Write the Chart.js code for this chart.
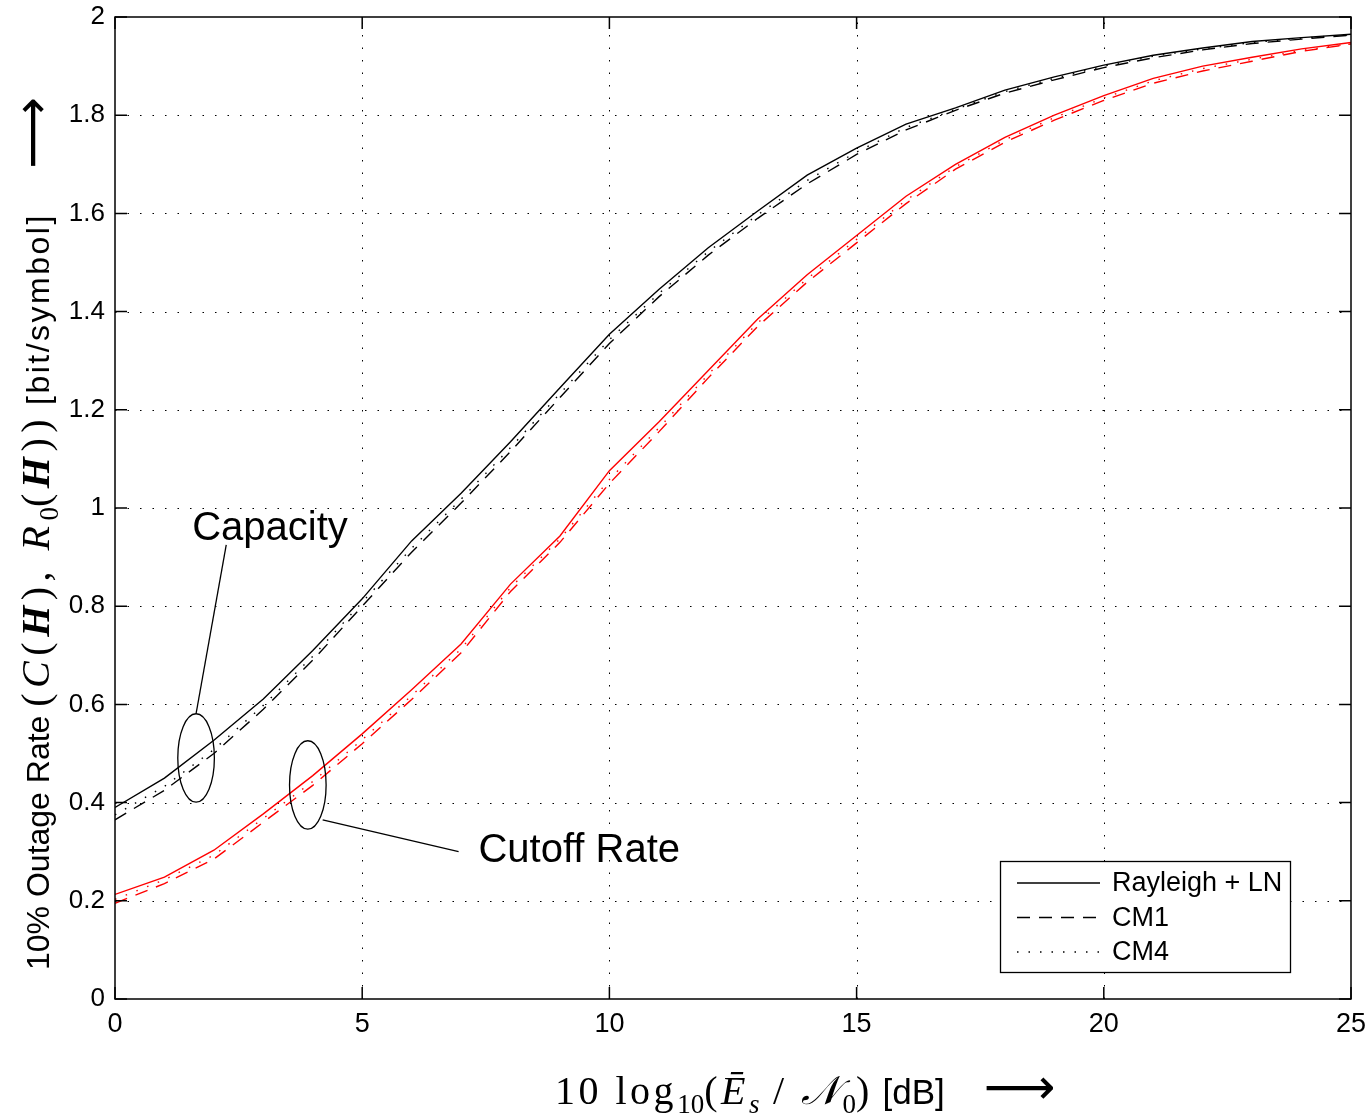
<!DOCTYPE html>
<html>
<head>
<meta charset="utf-8">
<script src="https://cdn.jsdelivr.net/npm/chart.js@4"></script>
<style>
    body { margin: 0; background: #fff; }
    #wrap { position: relative; width: 1371px; height: 1114px; }
    #chart { position: absolute; left: 0; top: 0; }
    .title { position: absolute; white-space: pre; color: #000; font-family: "Liberation Sans", Arial, sans-serif; text-align: left; }
    .m { font-family: "Liberation Serif", "DejaVu Serif", serif; font-size: 40px; letter-spacing: 3.5px; }
    #ytitle .m { letter-spacing: 5.5px; }
    .m sub { font-size: 27px; letter-spacing: 0; }
    .wide { letter-spacing: 2.5px; }
    .arrow { font-family: "DejaVu Sans", sans-serif; font-size: 50px; }
    #ytitle { font-size: 32px; left: 32px; top: 950px; width: 1000px; height: 40px; line-height: 40px; transform-origin: 0 50%; transform: rotate(-90deg); }
    #xtitle { font-size: 35px; left: 555px; top: 1064px; width: 800px; height: 46px; line-height: 46px; }
</style>
</head>
<body>
<div id="wrap">
    <canvas id="chart" width="1371" height="1114"></canvas>
    <div id="ytitle" class="title">10% Outage Rate <span class="m">(<i>C</i>(<b><i>H</i></b>), <i>R</i><sub>0</sub>(<b><i>H</i></b>))</span> <span class="wide">[bit/symbol]</span>     <span class="arrow">⟶</span></div>
    <div id="xtitle" class="title"><span class="m">10 log<sub>10</sub>(<i>Ē<sub>s</sub></i> / <i>𝒩</i><sub>0</sub>)</span> [dB]    <span class="arrow">⟶</span></div>
</div>
<script>
    // SNR in dB
    const snr = [0, 1, 2, 3, 4, 5, 6, 7, 8, 9, 10, 11, 12, 13, 14, 15, 16, 17, 18, 19, 20, 21, 22, 23, 24, 25];

    // capacity (black)
    const capRayleighLN = [0.39, 0.45, 0.527, 0.611, 0.71, 0.815, 0.933, 1.03, 1.135, 1.245, 1.354, 1.445, 1.53, 1.605, 1.678, 1.733, 1.782, 1.815, 1.851, 1.878, 1.902, 1.922, 1.937, 1.95, 1.958, 1.965];
    const capCM1 = [0.365, 0.425, 0.5, 0.59, 0.69, 0.8, 0.91, 1.01, 1.115, 1.225, 1.335, 1.43, 1.515, 1.59, 1.66, 1.72, 1.77, 1.81, 1.845, 1.872, 1.897, 1.917, 1.933, 1.946, 1.955, 1.963];
    const capCM4 = [0.375, 0.433, 0.508, 0.598, 0.698, 0.808, 0.918, 1.018, 1.123, 1.233, 1.343, 1.437, 1.522, 1.597, 1.667, 1.725, 1.775, 1.812, 1.848, 1.875, 1.9, 1.92, 1.935, 1.948, 1.957, 1.964];

    // cutoff rate (red)
    const cutRayleighLN = [0.213, 0.248, 0.303, 0.377, 0.455, 0.54, 0.63, 0.723, 0.845, 0.943, 1.076, 1.175, 1.28, 1.385, 1.475, 1.555, 1.635, 1.7, 1.755, 1.8, 1.84, 1.875, 1.9, 1.918, 1.935, 1.948];
    const cutCM1 = [0.195, 0.235, 0.285, 0.36, 0.435, 0.52, 0.61, 0.705, 0.83, 0.93, 1.05, 1.155, 1.265, 1.37, 1.46, 1.54, 1.62, 1.69, 1.745, 1.79, 1.83, 1.865, 1.89, 1.91, 1.93, 1.945];
    const cutCM4 = [0.203, 0.243, 0.293, 0.368, 0.443, 0.528, 0.618, 0.713, 0.838, 0.937, 1.058, 1.163, 1.272, 1.377, 1.467, 1.547, 1.627, 1.695, 1.75, 1.795, 1.835, 1.87, 1.895, 1.914, 1.932, 1.946];

    const legendLabels = ['Rayleigh + LN', 'CM1', 'CM4'];
    const xTicks = [0, 5, 10, 15, 20, 25];
    const yTicks = [0, 0.2, 0.4, 0.6, 0.8, 1, 1.2, 1.4, 1.6, 1.8, 2];

    const SOLID = [];
    const DASH = [13, 9];
    const DOT = [1.5, 10];

    function series(values, color, dash) {
        return {
            data: snr.map((x, i) => ({ x: x, y: values[i] })),
            borderColor: color,
            borderWidth: 1.4,
            borderDash: dash,
            pointRadius: 0,
            fill: false,
            tension: 0
        };
    }

    const datasets = [
        series(capCM4, '#000', DOT),
        series(capCM1, '#000', DASH),
        series(capRayleighLN, '#000', SOLID),
        series(cutCM4, '#ff0000', DOT),
        series(cutCM1, '#ff0000', DASH),
        series(cutRayleighLN, '#ff0000', SOLID)
    ];

    // ellipses + labels, in data units
    const notes = [
        { text: 'Capacity', cx: 1.64, cy: 0.491, rx: 0.37, ry: 0.09, from: [1.64, 0.581], to: [2.25, 0.925], tx: 1.56, ty: 0.935 },
        { text: 'Cutoff Rate', cx: 3.9, cy: 0.436, rx: 0.37, ry: 0.09, from: [4.2, 0.365], to: [6.95, 0.3], tx: 7.35, ty: 0.28 }
    ];

    const frame = {
        id: 'frame',
        beforeDatasetsDraw(chart) {
            const { ctx, chartArea: a, scales: { x, y } } = chart;
            ctx.save();
            ctx.strokeStyle = '#000';
            ctx.lineWidth = 1;
            ctx.setLineDash([1.5, 11]);
            xTicks.slice(1, -1).forEach(v => {
                const px = Math.round(x.getPixelForValue(v)) + 0.5;
                ctx.beginPath(); ctx.moveTo(px, a.bottom); ctx.lineTo(px, a.top); ctx.stroke();
            });
            yTicks.slice(1, -1).forEach(v => {
                const py = Math.round(y.getPixelForValue(v)) + 0.5;
                ctx.beginPath(); ctx.moveTo(a.left, py); ctx.lineTo(a.right, py); ctx.stroke();
            });
            ctx.restore();
        },
        afterDatasetsDraw(chart) {
            const { ctx, chartArea: a, scales: { x, y } } = chart;
            ctx.save();
            ctx.strokeStyle = '#000';
            ctx.lineWidth = 1.5;
            ctx.setLineDash([]);
            ctx.strokeRect(a.left, a.top, a.right - a.left, a.bottom - a.top);
            const t = 12;
            ctx.beginPath();
            xTicks.forEach(v => {
                const px = x.getPixelForValue(v);
                ctx.moveTo(px, a.bottom); ctx.lineTo(px, a.bottom - t);
                ctx.moveTo(px, a.top); ctx.lineTo(px, a.top + t);
            });
            yTicks.forEach(v => {
                const py = y.getPixelForValue(v);
                ctx.moveTo(a.left, py); ctx.lineTo(a.left + t, py);
                ctx.moveTo(a.right, py); ctx.lineTo(a.right - t, py);
            });
            ctx.stroke();

            // annotations
            ctx.lineWidth = 1.3;
            ctx.fillStyle = '#000';
            ctx.font = '40px "Liberation Sans", Arial, sans-serif';
            ctx.textBaseline = 'alphabetic';
            notes.forEach(n => {
                const cx = x.getPixelForValue(n.cx), cy = y.getPixelForValue(n.cy);
                const rx = x.getPixelForValue(n.cx + n.rx) - cx;
                const ry = cy - y.getPixelForValue(n.cy + n.ry);
                ctx.beginPath(); ctx.ellipse(cx, cy, rx, ry, 0, 0, Math.PI * 2); ctx.stroke();
                ctx.beginPath();
                ctx.moveTo(x.getPixelForValue(n.from[0]), y.getPixelForValue(n.from[1]));
                ctx.lineTo(x.getPixelForValue(n.to[0]), y.getPixelForValue(n.to[1]));
                ctx.stroke();
                ctx.fillText(n.text, x.getPixelForValue(n.tx), y.getPixelForValue(n.ty));
            });

            // legend box
            const bw = 290, bh = 111;
            const bx = a.right - 61 - bw, by = a.bottom - 27 - bh;
            ctx.fillStyle = '#fff';
            ctx.fillRect(bx, by, bw, bh);
            ctx.lineWidth = 1.3;
            ctx.strokeRect(bx + 0.5, by + 0.5, bw, bh);
            const styles = [SOLID, DASH, DOT];
            ctx.font = '27px "Liberation Sans", Arial, sans-serif';
            ctx.textBaseline = 'middle';
            ctx.fillStyle = '#000';
            legendLabels.forEach((lab, i) => {
                const ly = by + 22 + i * 34.5;
                ctx.setLineDash(styles[i]);
                ctx.beginPath(); ctx.moveTo(bx + 17, ly); ctx.lineTo(bx + 100, ly); ctx.stroke();
                ctx.setLineDash([]);
                ctx.fillText(lab, bx + 112, ly + 1);
            });
            ctx.restore();
        }
    };

    new Chart(document.getElementById('chart'), {
        type: 'line',
        data: { datasets: datasets },
        options: {
            responsive: false,
            animation: false,
            layout: { padding: { left: 0, top: 17, right: 20, bottom: 0 } },
            plugins: { legend: { display: false }, tooltip: { enabled: false } },
            scales: {
                x: {
                    type: 'linear', min: 0, max: 25,
                    afterFit: s => { s.height = 115; s.paddingLeft = 0; s.paddingRight = 0; },
                    afterBuildTicks: s => { s.ticks = xTicks.map(v => ({ value: v })); },
                    grid: { display: false, drawTicks: false },
                    border: { display: false },
                    ticks: { color: '#000', padding: 9, maxRotation: 0, font: { family: '"Liberation Sans", Arial, sans-serif', size: 27 } }
                },
                y: {
                    type: 'linear', min: 0, max: 2,
                    afterFit: s => { s.width = 115; s.paddingTop = 0; s.paddingBottom = 0; },
                    afterBuildTicks: s => { s.ticks = yTicks.map(v => ({ value: v })); },
                    grid: { display: false, drawTicks: false },
                    border: { display: false },
                    ticks: {
                        color: '#000', padding: 10,
                        font: { family: '"Liberation Sans", Arial, sans-serif', size: 26 },
                        callback: v => String(+v.toFixed(1))
                    }
                }
            }
        },
        plugins: [frame]
    });
</script>
</body>
</html>
